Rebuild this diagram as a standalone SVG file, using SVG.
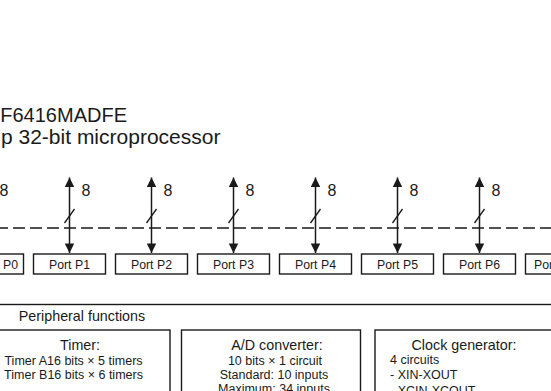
<svg xmlns="http://www.w3.org/2000/svg" width="551" height="391" viewBox="0 0 551 391">
<defs>
<style>
text{font-family:"Liberation Sans",Arial,sans-serif;fill:#1a1a1a}
.t{font-size:20px}
.t2{font-size:21px}
.lbl{font-size:16px}
.port rect,.box{fill:#fff;stroke:#1a1a1a;stroke-width:1.4}
.port text{font-size:12.3px;text-anchor:middle}
.arr{stroke:#1a1a1a;stroke-width:1.5;fill:none}
.sl{stroke:#1a1a1a;stroke-width:1.3}
.bus{stroke:#1a1a1a;stroke-width:1.5;stroke-dasharray:12 5;fill:none}
.h{font-size:14.3px}
.s{font-size:12.5px}
.c{text-anchor:middle}
</style>
<marker id="ah" viewBox="0 0 10 10" refX="10" refY="5" markerWidth="10" markerHeight="9.5" markerUnits="userSpaceOnUse" orient="auto-start-reverse">
<path d="M0,0 L10,5 L0,10 Z" fill="#1a1a1a"/>
</marker>
</defs>
<g id="title">
<text class="t" x="127" y="122" text-anchor="end">F6416MADFE</text>
<text class="t2" x="1" y="144">p 32-bit microprocessor</text>
</g>
<g id="connectors">
<line class="bus" x1="-4" y1="228" x2="551" y2="228"/>
<line class="arr" x1="69.5" y1="253" x2="69.5" y2="177.5" marker-start="url(#ah)" marker-end="url(#ah)"/>
<line class="arr" x1="151.5" y1="253" x2="151.5" y2="177.5" marker-start="url(#ah)" marker-end="url(#ah)"/>
<line class="arr" x1="233.5" y1="253" x2="233.5" y2="177.5" marker-start="url(#ah)" marker-end="url(#ah)"/>
<line class="arr" x1="315.5" y1="253" x2="315.5" y2="177.5" marker-start="url(#ah)" marker-end="url(#ah)"/>
<line class="arr" x1="397.5" y1="253" x2="397.5" y2="177.5" marker-start="url(#ah)" marker-end="url(#ah)"/>
<line class="arr" x1="479.5" y1="253" x2="479.5" y2="177.5" marker-start="url(#ah)" marker-end="url(#ah)"/>
<line class="sl" x1="64.5" y1="223" x2="74.5" y2="209"/>
<line class="sl" x1="146.5" y1="223" x2="156.5" y2="209"/>
<line class="sl" x1="228.5" y1="223" x2="238.5" y2="209"/>
<line class="sl" x1="310.5" y1="223" x2="320.5" y2="209"/>
<line class="sl" x1="392.5" y1="223" x2="402.5" y2="209"/>
<line class="sl" x1="474.5" y1="223" x2="484.5" y2="209"/>
<text class="lbl" x="-0.5" y="196">8</text>
<text class="lbl" x="81.5" y="196">8</text>
<text class="lbl" x="163.5" y="196">8</text>
<text class="lbl" x="245.5" y="196">8</text>
<text class="lbl" x="327.5" y="196">8</text>
<text class="lbl" x="409.5" y="196">8</text>
<text class="lbl" x="491.5" y="196">8</text>
</g>
<g id="p0" class="port"><rect x="-48.5" y="254" width="72" height="20"/><text x="18" y="268.5" style="text-anchor:end">Port P0</text></g>
<g id="p1" class="port"><rect x="33.5" y="254" width="72" height="20"/><text x="69.5" y="268.5">Port P1</text></g>
<g id="p2" class="port"><rect x="115.5" y="254" width="72" height="20"/><text x="151.5" y="268.5">Port P2</text></g>
<g id="p3" class="port"><rect x="197.5" y="254" width="72" height="20"/><text x="233.5" y="268.5">Port P3</text></g>
<g id="p4" class="port"><rect x="279.5" y="254" width="72" height="20"/><text x="315.5" y="268.5">Port P4</text></g>
<g id="p5" class="port"><rect x="361.5" y="254" width="72" height="20"/><text x="397.5" y="268.5">Port P5</text></g>
<g id="p6" class="port"><rect x="443.5" y="254" width="72" height="20"/><text x="479.5" y="268.5">Port P6</text></g>
<g id="p7" class="port"><rect x="525.5" y="254" width="72" height="20"/><text x="534" y="268.5" style="text-anchor:start">Port P7</text></g>
<g id="peripheral">
<rect class="box" x="-10" y="304.5" width="580" height="100"/>
<text class="h c" x="82" y="321">Peripheral functions</text>
</g>
<g id="timer">
<rect class="box" x="-20" y="330" width="190" height="80"/>
<text class="h c" x="80" y="350">Timer:</text>
<text class="s c" x="73.5" y="364.5">Timer A16 bits × 5 timers</text>
<text class="s c" x="73.5" y="378.5">Timer B16 bits × 6 timers</text>
</g>
<g id="adc">
<rect class="box" x="181.5" y="330" width="179" height="80"/>
<text class="h c" x="277" y="350">A/D converter:</text>
<text class="s c" x="275" y="364.5">10 bits × 1 circuit</text>
<text class="s c" x="274" y="378.5">Standard: 10 inputs</text>
<text class="s c" x="274" y="392.5">Maximum: 34 inputs</text>
</g>
<g id="clock">
<rect class="box" x="375" y="330" width="200" height="80"/>
<text class="h c" x="464" y="350">Clock generator:</text>
<text class="s" x="390" y="363.5">4 circuits</text>
<text class="s" x="390" y="379">- XIN-XOUT</text>
<text class="s" x="390" y="394.5">- XCIN-XCOUT</text>
</g>
</svg>
